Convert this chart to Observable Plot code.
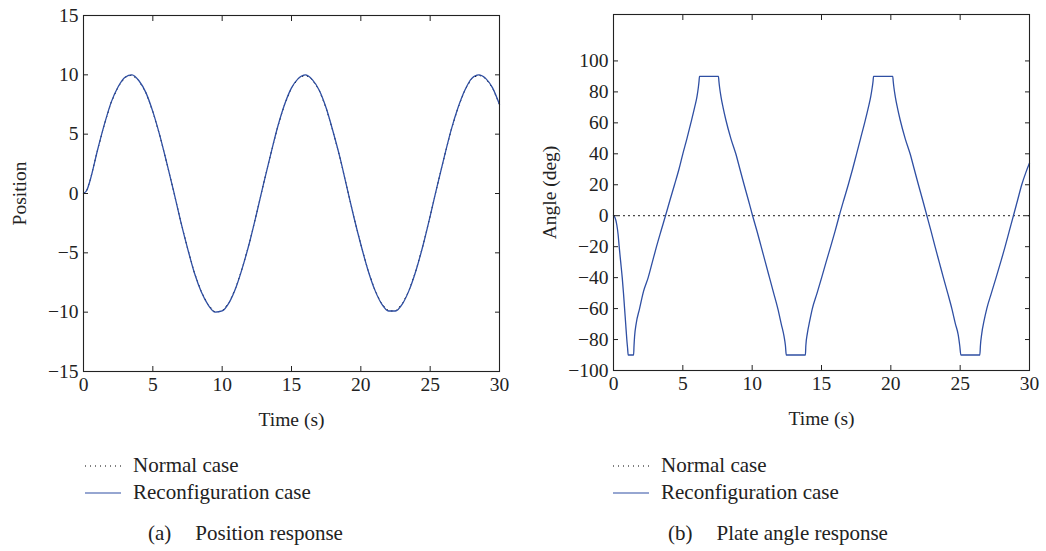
<!DOCTYPE html>
<html>
<head>
<meta charset="utf-8">
<script src="https://cdn.jsdelivr.net/npm/d3@7"></script>
<script src="https://cdn.jsdelivr.net/npm/@observablehq/plot@0.6"></script>
<style>
  html, body { margin: 0; padding: 0; background: #fff; }
  #page { position: relative; width: 1046px; height: 551px; font-family: "Liberation Serif", serif; color: #222; }
  .panel { position: absolute; top: 0; }
  .legend { position: absolute; font-size: 21px; line-height: 27px; }
  .legend .row { display: flex; align-items: center; height: 27px; }
  .legend svg { margin-right: 12px; }
  .caption { position: absolute; font-size: 21px; white-space: pre; }
  .caption span { margin-right: 24px; }
</style>
</head>
<body>
<div id="page">
  <div id="left" class="panel" style="left:0px"></div>
  <div id="right" class="panel" style="left:530px"></div>
</div>
<script>
// ---- data ----
const timeTicks = [0, 5, 10, 15, 20, 25, 30];
const positionTicks = [-15, -10, -5, 0, 5, 10, 15];
const angleTicks = [-100, -80, -60, -40, -20, 0, 20, 40, 60, 80, 100];

const posTime = [0, 0.25, 0.5, 1, 1.5, 2, 2.5, 3, 3.5, 4, 4.5, 5, 5.5, 6, 6.5, 7, 7.5, 8, 8.5, 9, 9.5, 10,
  10.5, 11, 11.5, 12, 12.5, 13, 13.5, 14, 14.5, 15, 15.5, 16, 16.5, 17, 17.5, 18, 18.5, 19, 19.5, 20,
  20.5, 21, 21.5, 22, 22.5, 23, 23.5, 24, 24.5, 25, 25.5, 26, 26.5, 27, 27.5, 28, 28.5, 29, 29.5, 30];
const posReconfig = [0, 0.3, 1.2, 3.6, 5.8, 7.7, 9.0, 9.8, 10.0, 9.5, 8.5, 6.9, 4.9, 2.6, 0.2, -2.3, -4.6, -6.7, -8.3, -9.4, -10.0, -9.9,
  -9.2, -7.9, -6.1, -4.0, -1.6, 0.9, 3.3, 5.6, 7.5, 8.9, 9.7, 10.0, 9.6, 8.7, 7.2, 5.2, 3.0, 0.5, -2.0, -4.3,
  -6.4, -8.1, -9.3, -9.9, -9.9, -9.3, -8.1, -6.4, -4.3, -1.9, 0.6, 3.0, 5.3, 7.2, 8.7, 9.7, 10.0, 9.7, 8.9, 7.5];
const posNormal = posReconfig.slice();

const angleTime = [0, 0.12, 0.24, 0.33, 0.41, 0.52, 0.63, 0.72, 0.8, 0.88, 0.96, 1.02, 1.06,
  1.45, 1.48, 1.52, 1.63, 1.88, 2.16, 2.5, 2.8, 3.1, 3.42, 3.75, 4.07, 4.4, 4.72, 5.0, 5.3, 5.58, 5.85, 6.02, 6.12, 6.17, 6.2,
  7.57, 7.6, 7.65, 7.75, 7.9, 8.1, 8.46, 8.82, 9.12, 9.42, 9.73, 10.03, 10.35, 10.65, 10.95, 11.25, 11.55, 11.85, 12.1, 12.3, 12.4, 12.46,
  13.84, 13.87, 13.98, 14.15, 14.34, 14.68, 15.01, 15.33, 15.66, 15.98, 16.28, 16.6, 16.93, 17.24, 17.53, 17.82, 18.11, 18.38, 18.55, 18.66, 18.72, 18.75,
  20.14, 20.17, 20.22, 20.32, 20.47, 20.67, 21.03, 21.39, 21.69, 21.99, 22.3, 22.6, 22.9, 23.19, 23.49, 23.79, 24.1, 24.4, 24.66, 24.86, 24.97, 25.05,
  26.42, 26.46, 26.56, 26.72, 26.92, 27.25, 27.59, 27.92, 28.24, 28.54, 28.84, 29.14, 29.44, 29.74, 30];
const angleReconfig = [0, -1.5, -6, -12, -20, -30, -40, -50, -60, -70, -80, -86, -90,
  -90, -84, -78, -70, -60, -49, -40, -30, -20, -10, 0, 10, 20, 30, 40, 50, 60, 70, 77, 83, 87, 90,
  90, 87, 83, 77, 70, 62, 50, 40, 30, 20, 10, 0, -10, -20, -30, -40, -50, -60, -70, -78, -84, -90,
  -90, -84, -76, -68, -60, -50, -40, -30, -20, -10, 0, 10, 20, 30, 40, 50, 60, 70, 77, 83, 87, 90,
  90, 87, 83, 77, 70, 62, 50, 40, 30, 20, 10, 0, -10, -20, -30, -40, -50, -60, -70, -77, -84, -90,
  -90, -84, -76, -68, -60, -50, -40, -30, -20, -10, 0, 10, 20, 28, 34];
const angleNormalTime = [0, 30];
const angleNormal = [0, 0];

const seriesNames = ["Normal case", "Reconfiguration case"];
const captionTags = ["(a)", "(b)"];
const captionTexts = ["Position response", "Plate angle response"];

// ---- styles ----
const blue = "#2f4fa3";
const ink = "#222";

function rows(t, v) { return t.map((d, i) => ({t: d, v: v[i]})); }

function panel({yDomain, yTicks, yLabel, normal, reconfig, marginTop, width, marginRight}) {
  return Plot.plot({
    width, height: 430,
    marginLeft: 83, marginRight, marginTop, marginBottom: 430 - marginTop - 356,
    style: {fontFamily: "Liberation Serif, serif", fontSize: "19.5px", color: ink, background: "transparent", overflow: "visible"},
    x: {domain: [0, 30]},
    y: {domain: yDomain},
    marks: [
      Plot.line(normal, {x: "t", y: "v", stroke: "#000", strokeWidth: 1, strokeDasharray: "1,4"}),
      Plot.line(reconfig, {x: "t", y: "v", stroke: blue, strokeWidth: 1.3, curve: "monotone-x"}),
      Plot.frame({stroke: ink, strokeWidth: 1.1}),
      Plot.axisX(timeTicks, {anchor: "bottom", tickSize: -5, tickPadding: 11, stroke: ink, label: "Time (s)", labelArrow: "none", labelAnchor: "center", labelOffset: 54, fontSize: 19.5}),
      Plot.axisX(timeTicks, {anchor: "top", tickSize: -5, tickFormat: () => "", stroke: ink, label: null}),
      Plot.axisY(yTicks, {anchor: "left", tickSize: -5, tickPadding: 10, stroke: ink, label: yLabel, labelArrow: "none", labelAnchor: "center", labelOffset: 71, fontSize: 19.5}),
      Plot.axisY(yTicks, {anchor: "right", tickSize: -5, tickFormat: () => "", stroke: ink, label: null})
    ]
  });
}

document.getElementById("left").append(panel({
  yDomain: [-15, 15], yTicks: positionTicks, yLabel: "Position",
  normal: rows(posTime, posNormal), reconfig: rows(posTime, posReconfig),
  marginTop: 15, width: 530, marginRight: 31
}));
document.getElementById("right").append(panel({
  yDomain: [-100, 130], yTicks: angleTicks, yLabel: "Angle (deg)",
  normal: rows(angleNormalTime, angleNormal), reconfig: rows(angleTime, angleReconfig),
  marginTop: 14, width: 516, marginRight: 17
}));

// ---- legends & captions ----
const page = document.getElementById("page");
[[85, 148], [613, 668]].forEach(([lx, cx], k) => {
  const lg = document.createElement("div");
  lg.className = "legend";
  lg.style.left = lx + "px";
  lg.style.top = "452px";
  seriesNames.forEach((name, i) => {
    const row = document.createElement("div");
    row.className = "row";
    const dash = i === 0 ? 'stroke="#000" stroke-dasharray="1,4"' : `stroke="${blue}"`;
    row.innerHTML = `<svg width="36" height="6"><line x1="0" x2="36" y1="3" y2="3" stroke-width="1.2" ${dash}/></svg><span>${name}</span>`;
    lg.append(row);
  });
  page.append(lg);
  const cap = document.createElement("div");
  cap.className = "caption";
  cap.style.left = cx + "px";
  cap.style.top = "521px";
  cap.innerHTML = `<span>${captionTags[k]}</span>${captionTexts[k]}`;
  page.append(cap);
});
</script>
</body>
</html>
